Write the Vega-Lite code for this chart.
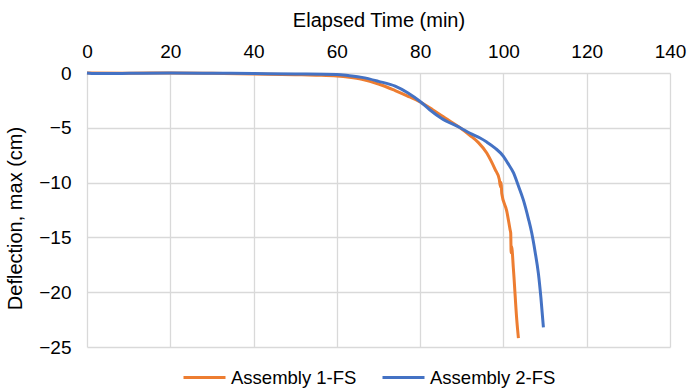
{
  "$schema": "https://vega.github.io/schema/vega-lite/v6.json",
  "autosize": {"type": "none"},
  "width": 583,
  "height": 274,
  "padding": {"left": 87, "top": 73, "right": 17, "bottom": 41},
  "background": "white",
  "config": {
    "font": "Liberation Sans",
    "view": {"stroke": null},
    "axis": {"labelFont": "Liberation Sans", "titleFont": "Liberation Sans", "labelColor": "#000000", "titleColor": "#000000", "titleFontWeight": "normal", "gridColor": "#d9d9d9", "gridWidth": 1.3, "domain": false, "ticks": false}
  },
  "data": {"values": [
    {"t": 0, "d": 0, "s": "Assembly 1-FS"},
    {"t": 10, "d": -0.02, "s": "Assembly 1-FS"},
    {"t": 20, "d": 0, "s": "Assembly 1-FS"},
    {"t": 30, "d": -0.03, "s": "Assembly 1-FS"},
    {"t": 40, "d": -0.08, "s": "Assembly 1-FS"},
    {"t": 50, "d": -0.15, "s": "Assembly 1-FS"},
    {"t": 55, "d": -0.2, "s": "Assembly 1-FS"},
    {"t": 60, "d": -0.28, "s": "Assembly 1-FS"},
    {"t": 63, "d": -0.4, "s": "Assembly 1-FS"},
    {"t": 66, "d": -0.58, "s": "Assembly 1-FS"},
    {"t": 70, "d": -1.0, "s": "Assembly 1-FS"},
    {"t": 74, "d": -1.6, "s": "Assembly 1-FS"},
    {"t": 77, "d": -2.1, "s": "Assembly 1-FS"},
    {"t": 80, "d": -2.65, "s": "Assembly 1-FS"},
    {"t": 83, "d": -3.35, "s": "Assembly 1-FS"},
    {"t": 86, "d": -4.1, "s": "Assembly 1-FS"},
    {"t": 89.6, "d": -5.0, "s": "Assembly 1-FS"},
    {"t": 92, "d": -5.7, "s": "Assembly 1-FS"},
    {"t": 94, "d": -6.35, "s": "Assembly 1-FS"},
    {"t": 96, "d": -7.3, "s": "Assembly 1-FS"},
    {"t": 97, "d": -8.0, "s": "Assembly 1-FS"},
    {"t": 98, "d": -8.8, "s": "Assembly 1-FS"},
    {"t": 99, "d": -9.7, "s": "Assembly 1-FS"},
    {"t": 99.3, "d": -10.4, "s": "Assembly 1-FS"},
    {"t": 99.45, "d": -10.0, "s": "Assembly 1-FS"},
    {"t": 99.6, "d": -11.0, "s": "Assembly 1-FS"},
    {"t": 100.8, "d": -12.6, "s": "Assembly 1-FS"},
    {"t": 101.6, "d": -14.3, "s": "Assembly 1-FS"},
    {"t": 101.75, "d": -14.6, "s": "Assembly 1-FS"},
    {"t": 101.85, "d": -16.4, "s": "Assembly 1-FS"},
    {"t": 101.95, "d": -15.8, "s": "Assembly 1-FS"},
    {"t": 102.4, "d": -17.9, "s": "Assembly 1-FS"},
    {"t": 103.2, "d": -22.5, "s": "Assembly 1-FS"},
    {"t": 103.6, "d": -24.2, "s": "Assembly 1-FS"},
    {"t": 0, "d": 0, "s": "Assembly 2-FS"},
    {"t": 2, "d": -0.05, "s": "Assembly 2-FS"},
    {"t": 10, "d": -0.03, "s": "Assembly 2-FS"},
    {"t": 20, "d": 0, "s": "Assembly 2-FS"},
    {"t": 30, "d": -0.02, "s": "Assembly 2-FS"},
    {"t": 40, "d": -0.05, "s": "Assembly 2-FS"},
    {"t": 50, "d": -0.08, "s": "Assembly 2-FS"},
    {"t": 60, "d": -0.13, "s": "Assembly 2-FS"},
    {"t": 63, "d": -0.25, "s": "Assembly 2-FS"},
    {"t": 66, "d": -0.4, "s": "Assembly 2-FS"},
    {"t": 70, "d": -0.76, "s": "Assembly 2-FS"},
    {"t": 74, "d": -1.2, "s": "Assembly 2-FS"},
    {"t": 77, "d": -1.8, "s": "Assembly 2-FS"},
    {"t": 80, "d": -2.6, "s": "Assembly 2-FS"},
    {"t": 82.3, "d": -3.35, "s": "Assembly 2-FS"},
    {"t": 85, "d": -4.1, "s": "Assembly 2-FS"},
    {"t": 89.6, "d": -5.0, "s": "Assembly 2-FS"},
    {"t": 92, "d": -5.5, "s": "Assembly 2-FS"},
    {"t": 94.4, "d": -5.93, "s": "Assembly 2-FS"},
    {"t": 96, "d": -6.3, "s": "Assembly 2-FS"},
    {"t": 98, "d": -6.85, "s": "Assembly 2-FS"},
    {"t": 100, "d": -7.6, "s": "Assembly 2-FS"},
    {"t": 101, "d": -8.2, "s": "Assembly 2-FS"},
    {"t": 102.4, "d": -9.1, "s": "Assembly 2-FS"},
    {"t": 103.5, "d": -10.2, "s": "Assembly 2-FS"},
    {"t": 104.8, "d": -11.6, "s": "Assembly 2-FS"},
    {"t": 106, "d": -13.3, "s": "Assembly 2-FS"},
    {"t": 106.8, "d": -14.6, "s": "Assembly 2-FS"},
    {"t": 107.6, "d": -16.3, "s": "Assembly 2-FS"},
    {"t": 108.4, "d": -18.3, "s": "Assembly 2-FS"},
    {"t": 109, "d": -20.5, "s": "Assembly 2-FS"},
    {"t": 109.6, "d": -23.2, "s": "Assembly 2-FS"}
  ]},
  "mark": {"type": "line", "strokeWidth": 3, "interpolate": "monotone"},
  "encoding": {
    "x": {"field": "t", "type": "quantitative", "scale": {"domain": [0, 140], "nice": false, "zero": false},
      "axis": {"orient": "top", "values": [0, 20, 40, 60, 80, 100, 120, 140], "title": "Elapsed Time (min)", "labelFontSize": 19, "titleFontSize": 20, "labelPadding": 12, "titlePadding": 12, "labelFlush": false}},
    "y": {"field": "d", "type": "quantitative", "scale": {"domain": [-25, 0], "nice": false},
      "axis": {"values": [0, -5, -10, -15, -20, -25], "title": "Deflection, max (cm)", "labelFontSize": 19, "titleFontSize": 20, "labelPadding": 16, "titlePadding": 13, "titleY": 145}},
    "color": {"field": "s", "type": "nominal", "scale": {"domain": ["Assembly 1-FS", "Assembly 2-FS"], "range": ["#ED7D31", "#4472C4"]},
      "legend": {"title": null, "orient": "none", "direction": "horizontal", "legendX": 95, "legendY": 282, "symbolType": "stroke", "symbolSize": 1764, "symbolStrokeWidth": 3, "labelFontSize": 18.5, "labelColor": "#000000", "columnPadding": 19, "labelOffset": 4}},
    "detail": {"field": "s"}
  }
}
